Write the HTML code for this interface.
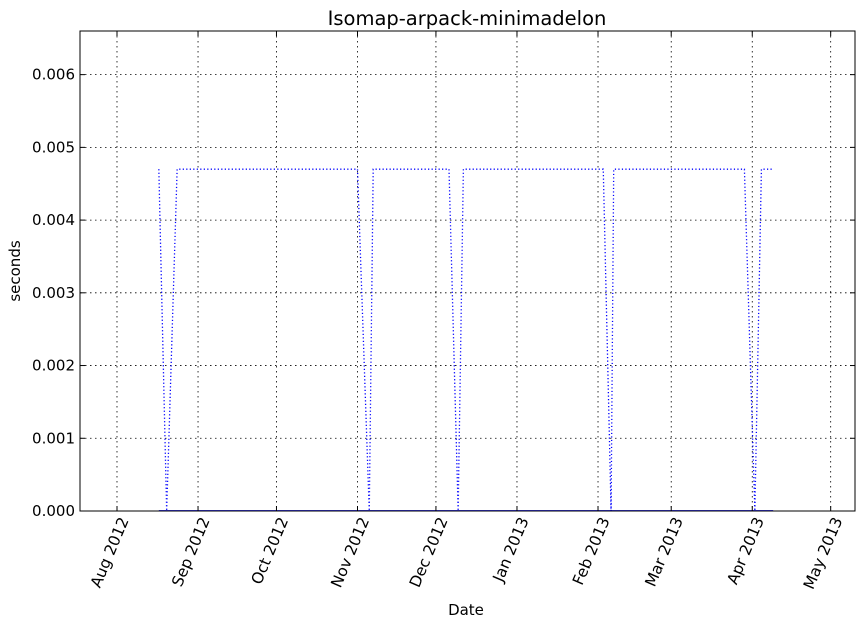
<!DOCTYPE html>
<html><head><meta charset="utf-8"><style>
body{margin:0;background:#fff;}
svg{display:block;font-family:"DejaVu Sans","Liberation Sans",sans-serif;}
</style></head><body>
<svg id="chart" width="868" height="626">
<rect width="868" height="626" fill="#fff"/>
<g id="grid"></g><g id="series"></g><g id="axes"></g>
<text x="467" y="25" font-size="19.5" text-anchor="middle">Isomap-arpack-minimadelon</text>
<text x="466" y="615" font-size="15" text-anchor="middle">Date</text>
<text transform="translate(20,271) rotate(-90)" font-size="15" text-anchor="middle">seconds</text>
</svg>
<script>
const dates=["2012-08-17","2012-08-20","2012-08-24","2012-11-01","2012-11-05T12:00","2012-11-07","2012-12-06","2012-12-09T12:00","2012-12-11T12:00","2013-02-03","2013-02-06","2013-02-07","2013-03-29","2013-04-02","2013-04-04T12:00","2013-04-09"];
const values=[0.0047,0,0.0047,0.0047,0,0.0047,0.0047,0,0.0047,0.0047,0,0.0047,0.0047,0,0.0047,0.0047];
const baseline=[0,0];
const baselineDates=["2012-08-17","2013-04-09"];
const xTickLabels=["Aug 2012","Sep 2012","Oct 2012","Nov 2012","Dec 2012","Jan 2013","Feb 2013","Mar 2013","Apr 2013","May 2013"];
const xTickDates=["2012-08-01","2012-09-01","2012-10-01","2012-11-01","2012-12-01","2013-01-01","2013-02-01","2013-03-01","2013-04-01","2013-05-01"];
const yTicks=[0,0.001,0.002,0.003,0.004,0.005,0.006];
const yTickLabels=["0.000","0.001","0.002","0.003","0.004","0.005","0.006"];

const NS="http://www.w3.org/2000/svg";
const L=80,R=855,T=31,B=511;
const day=864e5, origin=Date.UTC(2012,7,1);
const d0=-14.15, d1=282.3, yMax=0.0066;
function dn(s){const p=s.split(/[-T:]/);return (Date.UTC(+p[0],+p[1]-1,+p[2],+(p[3]||0))-origin)/day;}
function X(s){return L+(dn(s)-d0)/(d1-d0)*(R-L);}
function Y(v){return B-v/yMax*(B-T);}
function mk(tag,attrs,parent){const e=document.createElementNS(NS,tag);for(const k in attrs)e.setAttribute(k,attrs[k]);parent.appendChild(e);return e;}
const grid=document.getElementById('grid'),axes=document.getElementById('axes'),series=document.getElementById('series');

xTickDates.forEach((d,i)=>{
  const x=X(d);
  const g=mk('line',{x1:x,x2:x,y1:T,y2:B,stroke:'#000','stroke-width':0.8,'stroke-dasharray':'1.5,3.5'},grid);
  
  
  const t1=mk('line',{x1:x,x2:x,y1:B,y2:B-5,stroke:'#000'},axes);
  
  
  mk('line',{x1:x,x2:x,y1:T,y2:T+5,stroke:'#000'},axes);
  const tx=mk('text',{transform:`translate(${x+12},${B+9}) rotate(-67)`,'font-size':15.5,'text-anchor':'end'},axes);
  tx.textContent=xTickLabels[i];
  
  
});
yTicks.forEach((v,i)=>{
  const y=Y(v);
  const g=mk('line',{x1:L,x2:R,y1:y,y2:y,stroke:'#000','stroke-width':0.8,'stroke-dasharray':'1.5,3.5'},grid);
  
  
  mk('line',{x1:L,x2:L+5,y1:y,y2:y,stroke:'#000'},axes);
  mk('line',{x1:R,x2:R-5,y1:y,y2:y,stroke:'#000'},axes);
  const tx=mk('text',{x:L-5,y:y+5,'font-size':15,'text-anchor':'end'},axes);
  tx.textContent=yTickLabels[i];
  
  
});
const frame=mk('rect',{x:L,y:T,width:R-L,height:B-T,fill:'none',stroke:'#000','stroke-width':1},axes);



const bl=mk('polyline',{points:baselineDates.map((d,i)=>X(d)+','+(Y(baseline[i])-0.5)).join(' '),fill:'none',stroke:'#00f','stroke-width':0.8},series);


const pl=mk('polyline',{points:dates.map((d,i)=>X(d)+','+Y(values[i])).join(' '),fill:'none',stroke:'#00f','stroke-width':1.3,'stroke-dasharray':'1.2,2.3'},series);


</script>
</body></html>
